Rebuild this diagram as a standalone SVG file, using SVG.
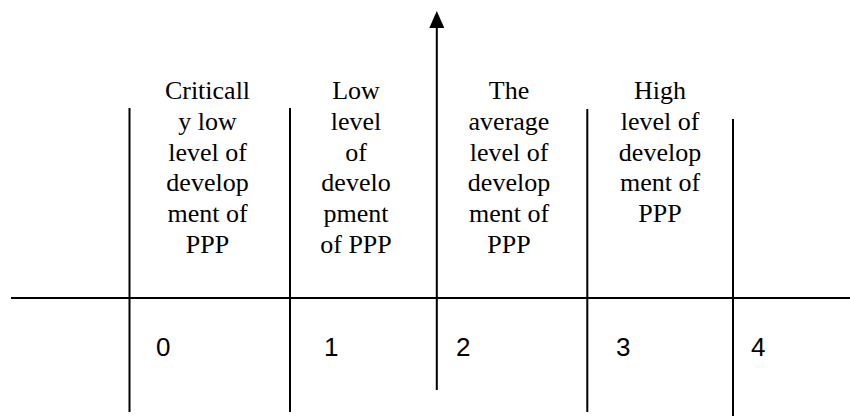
<svg xmlns="http://www.w3.org/2000/svg" width="850" height="416" viewBox="0 0 850 416">
<style>
.ln{stroke:#000;stroke-width:2;fill:none}
.lbl{font-family:'Liberation Serif','Times New Roman',serif;font-size:26px;fill:#000;text-anchor:middle}
.num{font-family:'Liberation Sans',Arial,sans-serif;font-size:26px;fill:#000}
</style>
<rect width="850" height="416" fill="#fff"/>
<g id="connectors">
<line class="ln" x1="11" y1="298" x2="850" y2="298"/>
<line class="ln" x1="129.5" y1="108" x2="129.5" y2="412"/>
<line class="ln" x1="290" y1="108" x2="290" y2="412"/>
<line class="ln" x1="436.8" y1="26" x2="436.8" y2="390"/>
<polygon points="436.8,11 429.3,28 444.3,28" fill="#000"/>
<line class="ln" x1="587.3" y1="109" x2="587.3" y2="412"/>
<line class="ln" x1="733" y1="119" x2="733" y2="416"/>
</g>
<g id="col0">
<text class="lbl" x="207.5" y="99.3">Criticall</text>
<text class="lbl" x="207.5" y="130">y low</text>
<text class="lbl" x="207.5" y="160.7">level of</text>
<text class="lbl" x="207.5" y="191.4">develop</text>
<text class="lbl" x="207.5" y="222.1">ment of</text>
<text class="lbl" x="207.5" y="252.8">PPP</text>
<text class="num" x="156" y="356">0</text>
</g>
<g id="col1">
<text class="lbl" x="356" y="99.3">Low</text>
<text class="lbl" x="356" y="130">level</text>
<text class="lbl" x="356" y="160.7">of</text>
<text class="lbl" x="356" y="191.4">develo</text>
<text class="lbl" x="356" y="222.1">pment</text>
<text class="lbl" x="356" y="252.8">of PPP</text>
<text class="num" x="324" y="356">1</text>
</g>
<g id="col2">
<text class="lbl" x="509" y="99.3">The</text>
<text class="lbl" x="509" y="130">average</text>
<text class="lbl" x="509" y="160.7">level of</text>
<text class="lbl" x="509" y="191.4">develop</text>
<text class="lbl" x="509" y="222.1">ment of</text>
<text class="lbl" x="509" y="252.8">PPP</text>
<text class="num" x="456" y="356">2</text>
</g>
<g id="col3">
<text class="lbl" x="660" y="99.3">High</text>
<text class="lbl" x="660" y="130">level of</text>
<text class="lbl" x="660" y="160.7">develop</text>
<text class="lbl" x="660" y="191.4">ment of</text>
<text class="lbl" x="660" y="222.1">PPP</text>
<text class="num" x="616" y="356">3</text>
</g>
<g id="col4">
<text class="num" x="751" y="356">4</text>
</g>
</svg>
